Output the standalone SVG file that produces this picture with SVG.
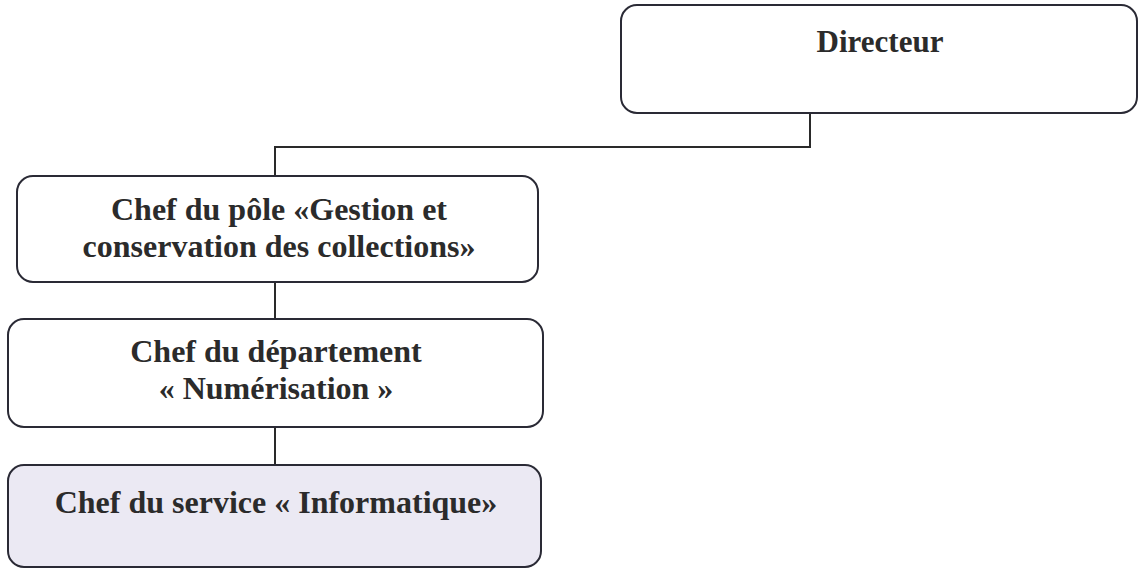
<svg xmlns="http://www.w3.org/2000/svg" width="1139" height="570" viewBox="0 0 1139 570">
<style>
.box{fill:#fff;stroke:#2a2a35;stroke-width:2}
.hl{fill:#ebe9f3}
.t{font-family:"Liberation Serif","Times New Roman",serif;font-weight:bold;font-size:32px;fill:#2b2b2b;text-anchor:middle}
.c{stroke:#2a2a2a;stroke-width:2;fill:none}
</style>
<rect width="1139" height="570" fill="#fff"/>
<g id="connectors">
<path class="c" d="M810 113V147H275V176"/>
<path class="c" d="M275 282V319"/>
<path class="c" d="M275 427V465"/>
</g>
<g id="directeur">
<rect class="box" x="621" y="5" width="516" height="108" rx="16"/>
<text class="t" x="880" y="52" style="font-size:31px">Directeur</text>
</g>
<g id="pole">
<rect class="box" x="17" y="176" width="521" height="106" rx="16"/>
<text class="t" x="279" y="220">Chef du pôle «Gestion et</text>
<text class="t" x="279" y="257">conservation des collections»</text>
</g>
<g id="departement">
<rect class="box" x="8" y="319" width="535" height="108" rx="16"/>
<text class="t" x="276" y="362">Chef du département</text>
<text class="t" x="276" y="399">« Numérisation »</text>
</g>
<g id="service">
<rect class="box hl" x="8" y="465" width="533" height="102" rx="16"/>
<text class="t" x="276" y="513">Chef du service « Informatique»</text>
</g>
</svg>
